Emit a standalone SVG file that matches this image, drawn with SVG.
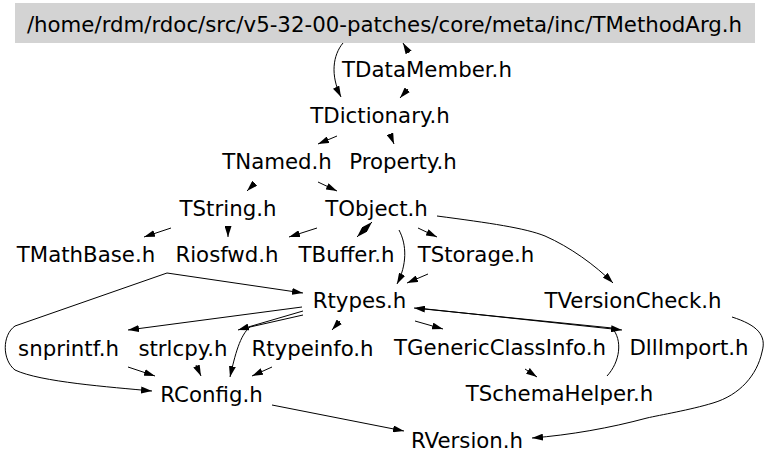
<svg xmlns="http://www.w3.org/2000/svg" width="768" height="465" viewBox="0 0 768 465">
<style>
text{font-family:"DejaVu Sans","Liberation Sans",sans-serif;font-size:21.3px;fill:#000;text-anchor:middle}
.e{fill:none;stroke:#000;stroke-width:1}
</style>
<defs>
<marker id="a" markerUnits="userSpaceOnUse" viewBox="0 0 11 7" refX="11" refY="3.5" markerWidth="11" markerHeight="7" orient="auto">
<path d="M0,0 L11,3.5 L0,7 z" fill="#000"/>
</marker>
</defs>
<rect width="768" height="465" fill="#fff"/>
<g id="edges">
<path class="e" marker-end="url(#a)" d="M343,43 C333,55 330,75 341,97"/>
<path class="e" marker-end="url(#a)" d="M409,53 L403,43"/>
<path class="e" marker-end="url(#a)" d="M408,89 L400,98"/>
<path class="e" marker-end="url(#a)" d="M337,136 L318,144"/>
<path class="e" marker-end="url(#a)" d="M390,134 L394,144"/>
<path class="e" marker-end="url(#a)" d="M255,183 L247,191"/>
<path class="e" marker-end="url(#a)" d="M318,182 L337,191"/>
<path class="e" marker-end="url(#a)" d="M171,228 L144,237"/>
<path class="e" marker-end="url(#a)" d="M228,226 L228,237"/>
<path class="e" marker-end="url(#a)" d="M317,228 L289,237"/>
<path class="e" marker-end="url(#a)" d="M364,230 L372,222"/>
<path class="e" marker-end="url(#a)" d="M365,229 L357,237"/>
<path class="e" marker-end="url(#a)" d="M399,230 C407,245 407,265 397,284"/>
<path class="e" marker-end="url(#a)" d="M418,228 L437,237"/>
<path class="e" marker-end="url(#a)" d="M428,274 L407,283"/>
<path class="e" marker-end="url(#a)" d="M437,216 C490,223 525,228 545,236 C570,247 595,265 613,283"/>
<path class="e" marker-end="url(#a)" d="M167,273 L303,293"/>
<path class="e" marker-end="url(#a)" d="M167,273 L15,326 C2,335 2,360 15,370 C40,382 110,387 152,391"/>
<path class="e" marker-end="url(#a)" d="M302,307 L128,330"/>
<path class="e" marker-end="url(#a)" d="M303,311 L238,330"/>
<path class="e" marker-end="url(#a)" d="M303,315 L250,327 C240,335 235,355 230,377"/>
<path class="e" marker-end="url(#a)" d="M340,321 L332,330"/>
<path class="e" marker-end="url(#a)" d="M415,321 L443,329"/>
<path class="e" marker-end="url(#a)" d="M417,308 L622,330"/>
<path class="e" marker-end="url(#a)" d="M607,376 C620,362 623,340 612,328 L414,308"/>
<path class="e" marker-end="url(#a)" d="M525,369 L537,377"/>
<path class="e" marker-end="url(#a)" d="M732,317 C757,325 767,335 762,352 C757,375 740,395 713,403 C690,410 660,415 647,418 C610,428 570,435 532,438"/>
<path class="e" marker-end="url(#a)" d="M272,405 L404,431"/>
<path class="e" marker-end="url(#a)" d="M128,367 L155,376"/>
<path class="e" marker-end="url(#a)" d="M196,365 L201,376"/>
<path class="e" marker-end="url(#a)" d="M272,367 L252,376"/>
</g>
<g id="TMethodArg"><rect x="15" y="3" width="740" height="40" fill="#d3d3d3"/><text x="384.5" y="32">/home/rdm/rdoc/src/v5-32-00-patches/core/meta/inc/TMethodArg.h</text></g>
<g id="TDataMember"><text x="427" y="77">TDataMember.h</text></g>
<g id="TDictionary"><text x="380" y="123">TDictionary.h</text></g>
<g id="TNamed"><text x="277" y="169">TNamed.h</text></g>
<g id="Property"><text x="403" y="169">Property.h</text></g>
<g id="TString"><text x="228" y="216">TString.h</text></g>
<g id="TObject"><text x="376.5" y="216">TObject.h</text></g>
<g id="TMathBase"><text x="86" y="262">TMathBase.h</text></g>
<g id="Riosfwd"><text x="227" y="262">Riosfwd.h</text></g>
<g id="TBuffer"><text x="346.5" y="262">TBuffer.h</text></g>
<g id="TStorage"><text x="476" y="262">TStorage.h</text></g>
<g id="Rtypes"><text x="359.5" y="308">Rtypes.h</text></g>
<g id="TVersionCheck"><text x="633" y="308">TVersionCheck.h</text></g>
<g id="snprintf"><text x="68.5" y="356">snprintf.h</text></g>
<g id="strlcpy"><text x="183" y="356">strlcpy.h</text></g>
<g id="Rtypeinfo"><text x="312.5" y="356">Rtypeinfo.h</text></g>
<g id="TGenericClassInfo"><text x="500" y="355">TGenericClassInfo.h</text></g>
<g id="DllImport"><text x="689" y="355">DllImport.h</text></g>
<g id="RConfig"><text x="211.5" y="402">RConfig.h</text></g>
<g id="TSchemaHelper"><text x="559.5" y="401">TSchemaHelper.h</text></g>
<g id="RVersion"><text x="467" y="448">RVersion.h</text></g>
</svg>
